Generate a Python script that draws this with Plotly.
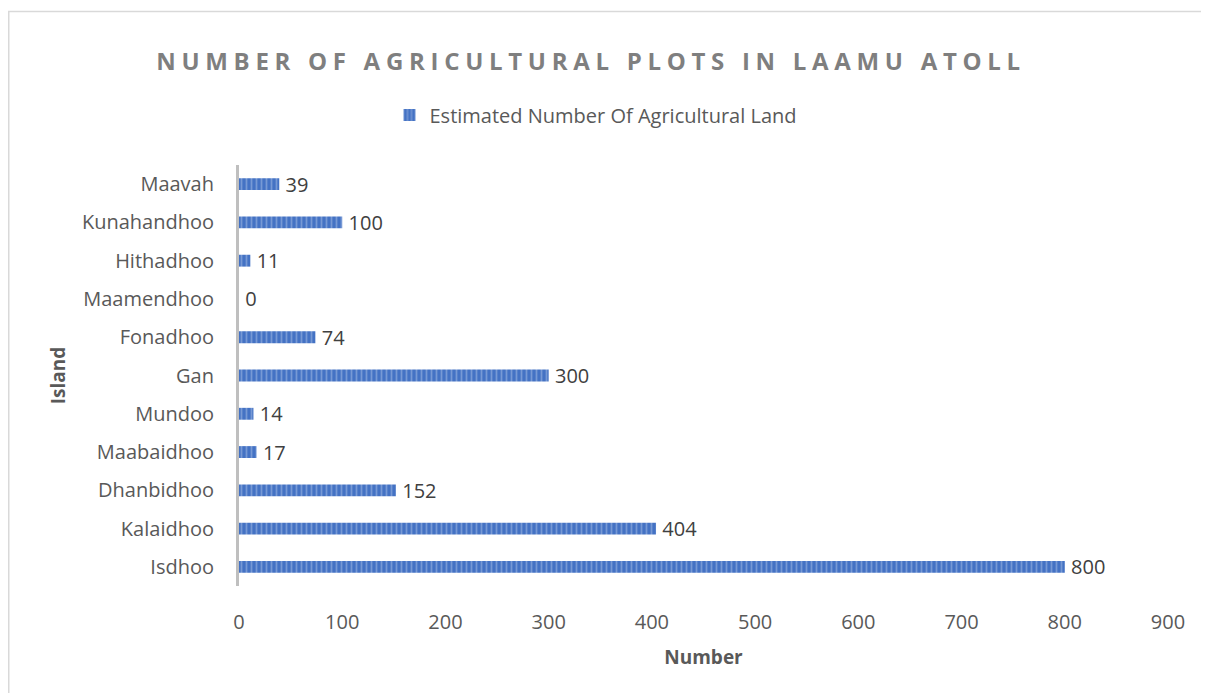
"""Horizontal bar chart: number of agricultural plots per island in Laamu Atoll."""

import plotly.graph_objects as go

# Data (bottom to top, as drawn)
islands = [
    "Isdhoo", "Kalaidhoo", "Dhanbidhoo", "Maabaidhoo", "Mundoo", "Gan",
    "Fonadhoo", "Maamendhoo", "Hithadhoo", "Kunahandhoo", "Maavah",
]
plots = [800, 404, 152, 17, 14, 300, 74, 0, 11, 100, 39]
x_ticks = [0, 100, 200, 300, 400, 500, 600, 700, 800, 900]

SERIES_NAME = "Estimated Number Of Agricultural Land"
TITLE = "NUMBER OF AGRICULTURAL PLOTS IN LAAMU ATOLL"

_BAR_DARK = "#4472c4"
_BAR_LIGHT = "#a9bfe6"
_TEXT = "#595959"
_LABEL = "#404040"
_FONT = "Open Sans"

# the page body adds an 8px margin, so the figure is 8px smaller than the window
W, H = 1201, 685
M_L, M_R, M_T, M_B = 231, 41, 157, 107

fig = go.Figure(
    go.Bar(
        x=plots,
        y=islands,
        orientation="h",
        name=SERIES_NAME,
        marker={
            "color": _BAR_DARK,
            "line": {"width": 0},
            "pattern": {
                "shape": "|",
                "size": 5,
                "solidity": 0.35,
                "fgcolor": _BAR_LIGHT,
                "bgcolor": _BAR_DARK,
            },
        },
        # thin space pushes the label a little off the bar end, as in Excel
        texttemplate="\u2009%{x}",
        textposition="outside",
        constraintext="none",
        textfont={"family": _FONT, "size": 20, "color": _LABEL},
        cliponaxis=False,
        showlegend=True,
        hovertemplate="%{y}: %{x}<extra></extra>",
    )
)

fig.update_xaxes(
    range=[0, 900],
    tickvals=x_ticks,
    showgrid=False,
    zeroline=False,
    showline=False,
    ticks="",
    ticklabelstandoff=22,
    tickfont={"family": _FONT, "size": 20, "color": _TEXT},
    title={
        "text": "<b>Number</b>",
        "font": {"family": _FONT, "size": 19, "color": _TEXT},
        "standoff": 16,
    },
)
fig.update_yaxes(
    categoryorder="array",
    categoryarray=islands,
    showgrid=False,
    zeroline=False,
    showline=True,
    linecolor="#bfbfbf",
    linewidth=3,
    ticks="",
    ticklabelstandoff=18,
    tickfont={"family": _FONT, "size": 20, "color": _TEXT},
    title={
        "text": "<b>Island</b>",
        "font": {"family": _FONT, "size": 19, "color": _TEXT},
        "standoff": 12,
    },
)

# chart-area frame (left and top edges are visible in the picture)
pw, ph = W - M_L - M_R, H - M_T - M_B
fig.add_shape(
    type="rect",
    xref="paper",
    yref="paper",
    x0=(0.75 - M_L) / pw,
    x1=(W + 20 - M_L) / pw,
    y0=-(M_B + 20) / ph,
    y1=(H - M_B - 3.5) / ph,
    line={"color": "#d9d9d9", "width": 1.5},
    layer="below",
)

fig.update_layout(
    width=W,
    height=H,
    margin={"l": M_L, "r": M_R, "t": M_T, "b": M_B},
    paper_bgcolor="white",
    plot_bgcolor="white",
    bargap=0.69,
    title={
        "text": f'<span style="letter-spacing:5.7px">{TITLE}</span>',
        "font": {"family": _FONT, "size": 24, "color": "#7f7f7f", "weight": "bold"},
        "x": 583 / W,
        "xref": "container",
        "xanchor": "center",
        "y": 1 - 54 / H,
        "yref": "container",
        "yanchor": "middle",
    },
    legend={
        "orientation": "h",
        "x": 588 / W,
        "xref": "container",
        "xanchor": "center",
        "y": 1 - 107 / H,
        "yref": "container",
        "yanchor": "middle",
        "font": {"family": _FONT, "size": 20, "color": _TEXT},
        "itemwidth": 30,
    },
    font={"family": _FONT, "color": _TEXT},
)

fig.write_html("out.html")
